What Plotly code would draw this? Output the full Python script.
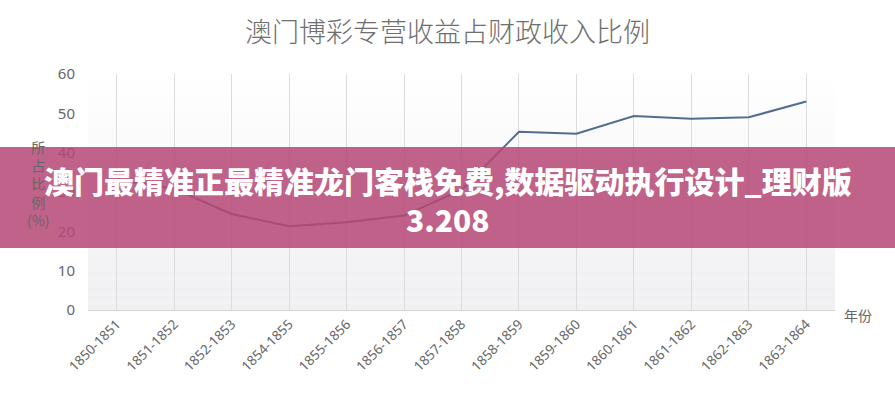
import plotly.graph_objects as go

categories = ["1850-1851", "1851-1852", "1852-1853", "1854-1855", "1855-1856",
              "1856-1857", "1857-1858", "1858-1859", "1859-1860", "1860-1861",
              "1861-1862", "1862-1863", "1863-1864"]
values = [33.2, 30.8, 24.4, 21.3, 22.3, 24.0, 30.5, 45.3, 44.8, 49.3, 48.6, 49.0, 53.0]
y_ticks = [0, 10, 20, 30, 40, 50, 60]

title_text = "澳门博彩专营收益占财政收入比例"
banner_text = "澳门最精准正最精准龙门客栈免费,数据驱动执行设计_理财版<br>3.208"

W, H = 895, 397
L, R, T, B = 88, 60, 74, 87
pw, ph = W - L - R, H - T - B

fig = go.Figure()
fig.add_trace(go.Scatter(
    x=categories, y=values, mode="lines",
    line=dict(color="#536d8e", width=2),
    hoverinfo="x+y", showlegend=False,
))

shapes = []
# plot-area vertical gradient background
steps = 30
for i in range(steps):
    y0 = 60 * i / steps
    y1 = 60 * (i + 1) / steps
    t = i / (steps - 1)
    c = int(241 + (255 - 241) * t)
    c2 = int(243 + (255 - 243) * t)
    shapes.append(dict(type="rect", xref="x domain", yref="y", x0=0, x1=1,
                       y0=y0, y1=y1, line=dict(width=0),
                       fillcolor=f"rgb({c},{c},{c2})", layer="below"))

def px_to_paper_x(px):
    return (px - L) / pw

def px_to_paper_y(py):
    return (H - B - py) / ph

# overlay banner
shapes.append(dict(type="rect", xref="paper", yref="paper",
                   x0=px_to_paper_x(0), x1=px_to_paper_x(W),
                   y0=px_to_paper_y(248), y1=px_to_paper_y(147),
                   line=dict(width=0), fillcolor="rgba(181,70,116,0.85)",
                   layer="above"))

annotations = [
    dict(text=banner_text, xref="paper", yref="paper",
         x=px_to_paper_x(W / 2), y=px_to_paper_y(199), xanchor="center", yanchor="middle",
         showarrow=False, align="center",
         font=dict(family="Noto Sans CJK SC", size=30, color="white", weight=900)),
    dict(text="所<br>占<br>比<br>例<br>(%)", xref="paper", yref="paper",
         x=px_to_paper_x(38), y=px_to_paper_y(183), xanchor="center", yanchor="middle",
         showarrow=False, align="center",
         font=dict(family="Noto Sans CJK SC", size=14, color="#666666")),
    dict(text="年份", xref="paper", yref="paper",
         x=px_to_paper_x(858), y=px_to_paper_y(315), xanchor="center", yanchor="middle",
         showarrow=False,
         font=dict(family="Noto Sans CJK SC", size=14, color="#666666")),
]

fig.update_layout(
    width=W, height=H,
    margin=dict(l=L, r=R, t=T, b=B),
    paper_bgcolor="white", plot_bgcolor="white",
    title=dict(text=title_text, x=0.5, xanchor="center", y=1 - 33 / H, yanchor="middle",
               font=dict(family="Noto Sans CJK SC", size=27, color="#6e6e6e", weight=300)),
    shapes=shapes, annotations=annotations,
    xaxis=dict(type="category", range=[-0.5, 12.5], showgrid=True,
               gridcolor="#dcdcdc", gridwidth=1, showline=True, linecolor="#d6d6d6",
               linewidth=1, ticks="", tickangle=-45,
               tickfont=dict(family="Noto Sans", size=13.5, color="#666666"),
               zeroline=False, fixedrange=True),
    yaxis=dict(range=[0, 60], tickvals=y_ticks, showgrid=False, showline=False,
               zeroline=False, ticks="", ticklabelstandoff=12,
               tickfont=dict(family="Noto Sans", size=15, color="#666666"),
               fixedrange=True),
)

fig.write_html("out.html")
